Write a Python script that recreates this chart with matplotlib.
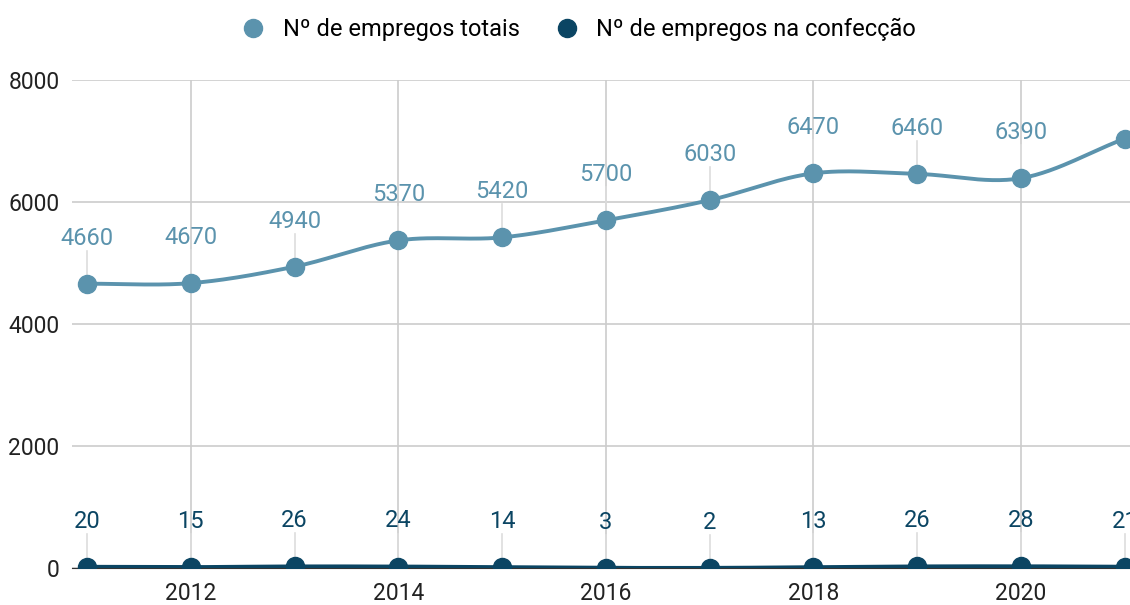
import numpy as np
import matplotlib.pyplot as plt

plt.rcParams['font.family'] = ['Roboto', 'DejaVu Sans']

# data
anos = [2011, 2012, 2013, 2014, 2015, 2016, 2017, 2018, 2019, 2020, 2021]
totais = [4660, 4670, 4940, 5370, 5420, 5700, 6030, 6470, 6460, 6390, 7040]
confeccao = [20, 15, 26, 24, 14, 3, 2, 13, 26, 28, 21]

cor_totais = '#5b93ad'
cor_conf = '#0b4563'


def suave(x, y, n=30):
    # curva tipo Catmull-Rom so para desenhar a linha
    x = np.asarray(x, float)
    y = np.asarray(y, float)
    m = np.gradient(y, x)
    xs, ys = [], []
    for i in range(len(x) - 1):
        h = x[i + 1] - x[i]
        t = np.linspace(0, 1, n)
        h00 = 2 * t**3 - 3 * t**2 + 1
        h10 = t**3 - 2 * t**2 + t
        h01 = -2 * t**3 + 3 * t**2
        h11 = t**3 - t**2
        xs.append(x[i] + t * h)
        ys.append(h00 * y[i] + h10 * h * m[i] + h01 * y[i + 1] + h11 * h * m[i + 1])
    return np.concatenate(xs), np.concatenate(ys)


fig = plt.figure(figsize=(11.3, 6.05), dpi=100)
ax = fig.add_axes([72 / 1130, 1 - 568 / 605, 1 - 72 / 1130, 488 / 605])

for serie, cor, nome in [(totais, cor_totais, 'Nº de empregos totais'),
                         (confeccao, cor_conf, 'Nº de empregos na confecção')]:
    xs, ys = suave(anos, serie)
    ax.plot(xs, ys, color=cor, lw=2.8, zorder=3)
    ax.plot(anos, serie, 'o', color=cor, ms=13, zorder=4, label=nome)
    for a, v in zip(anos, serie):
        # o ultimo rotulo da serie total nao aparece no original
        if serie is totais and a == anos[-1]:
            continue
        # linha guia do rotulo ate o ponto
        ax.plot([a, a], [v, v + 540], color='#dddddd', lw=1.2, zorder=1)
        ax.text(a, v + 560, str(v), color=cor, fontsize=17, ha='center', va='bottom', zorder=5)

ax.set_xlim(2010.855, 2021.05)
ax.set_ylim(0, 8000)
ax.set_yticks([0, 2000, 4000, 6000, 8000])
ax.set_xticks([2012, 2014, 2016, 2018, 2020])
ax.grid(True, color='#cccccc', lw=1.2)
ax.set_axisbelow(True)
for s in ['top', 'right', 'left']:
    ax.spines[s].set_visible(False)
ax.spines['bottom'].set_color('#333333')
ax.tick_params(length=0, labelsize=16.5, colors='#222222')
ax.tick_params(axis='x', pad=10)
ax.tick_params(axis='y', pad=9)

leg = fig.legend(loc='upper center', bbox_to_anchor=(0.507, 1.006), ncol=2, frameon=False,
                 fontsize=17, handletextpad=0.25, columnspacing=1.0, markerscale=1.0)

fig.savefig('out.png', dpi=100)
